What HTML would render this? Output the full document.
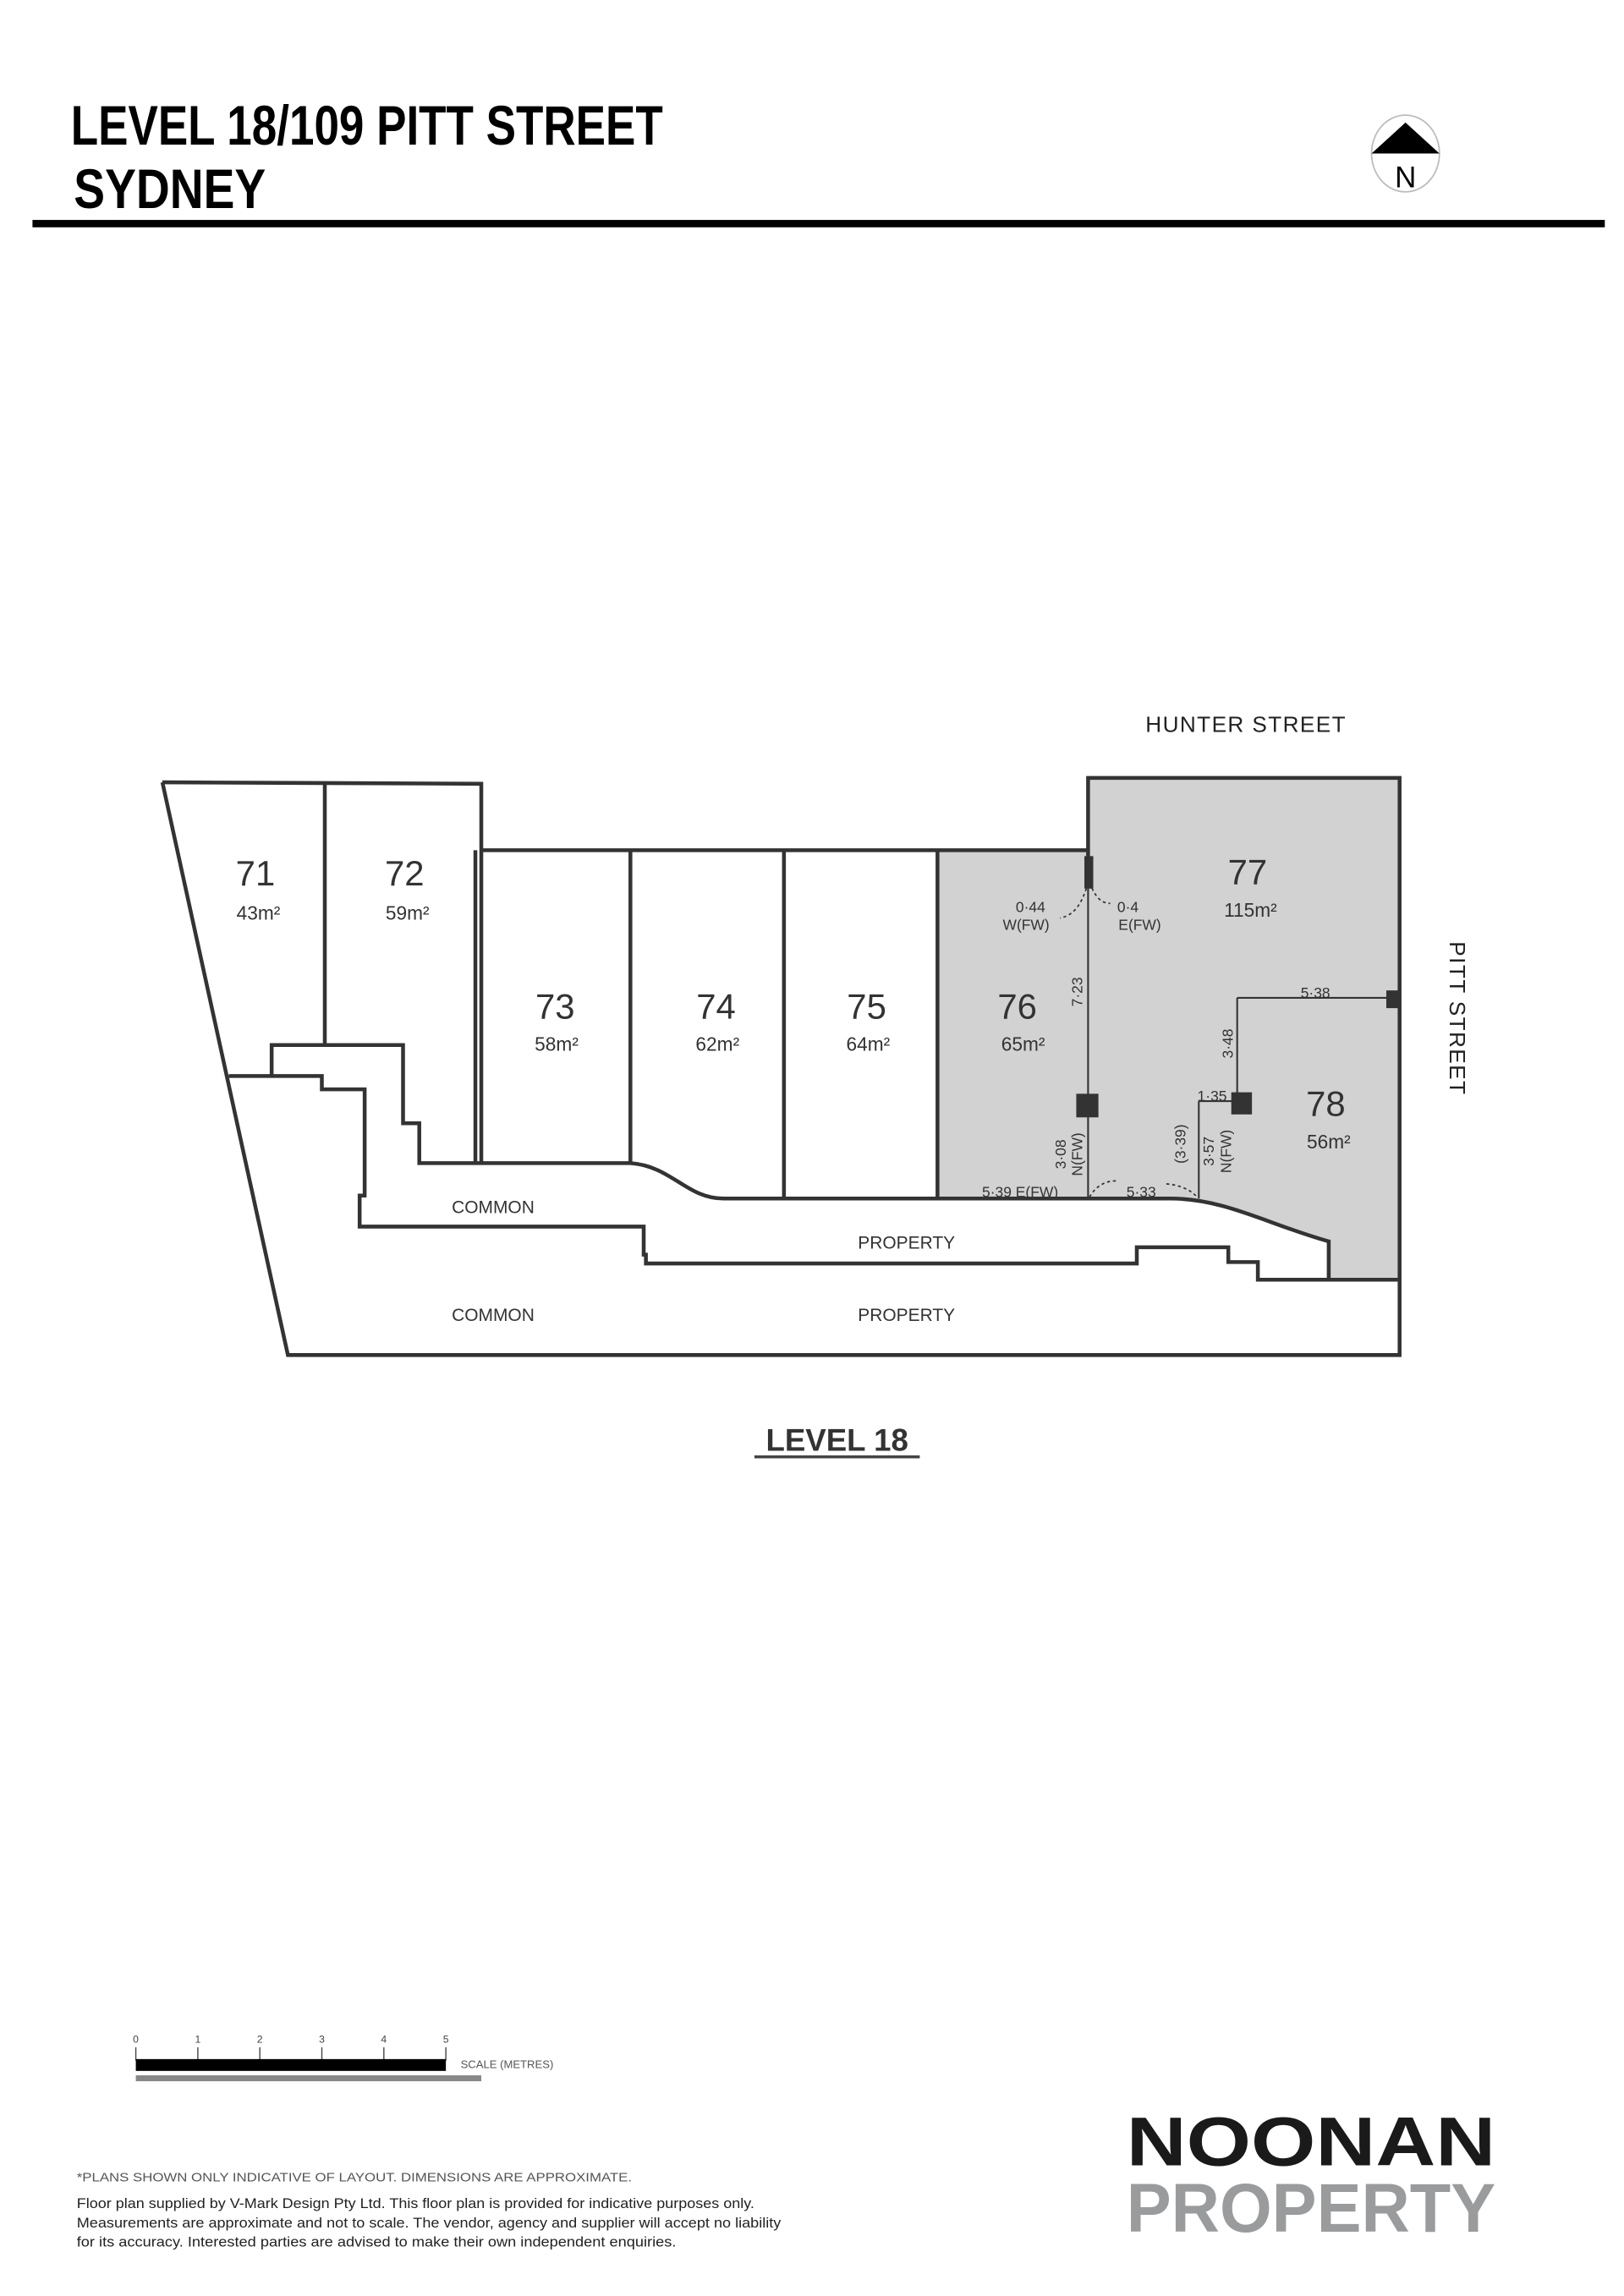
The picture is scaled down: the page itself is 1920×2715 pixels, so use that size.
<!DOCTYPE html>
<html><head><meta charset="utf-8"><style>
html,body{margin:0;padding:0;background:#fff;}
svg{display:block;}
text{font-family:"Liberation Sans",sans-serif;}
</style></head><body>
<svg width="1920" height="2715" viewBox="0 0 1100 1555.5" preserveAspectRatio="none" xmlns="http://www.w3.org/2000/svg">
<!-- header -->
<text x="48" y="98" font-family="Liberation Sans Narrow, Liberation Sans, sans-serif" font-weight="bold" font-size="38" textLength="401" lengthAdjust="spacingAndGlyphs">LEVEL 18/109 PITT STREET</text>
<text x="50" y="141" font-family="Liberation Sans Narrow, Liberation Sans, sans-serif" font-weight="bold" font-size="38" textLength="130" lengthAdjust="spacingAndGlyphs">SYDNEY</text>
<rect x="22" y="149" width="1065" height="5" fill="#000"/>
<ellipse cx="952" cy="104" rx="23" ry="26" fill="#fff" stroke="#bbb" stroke-width="1"/>
<polygon points="952,83 929,104 975,104" fill="#000"/>
<text x="952" y="127" text-anchor="middle" font-size="20" fill="#000">N</text>

<!-- plan -->
<g stroke="#333" stroke-width="2.6" fill="none" stroke-linejoin="miter">
<path d="M635,576 L737,576 L737,527 L948,527 L948,868 L900,868 L900,841 C860,830 830,812 793,812 L635,812 Z" fill="#d2d2d2" stroke="none"/>
<!-- outer -->
<path d="M110,530 L326,531 L326,788"/>
<path d="M110,530 L195,918 L948,918 L948,527 L737,527 L737,597"/>
<path d="M326,576 L737,576"/>
<path d="M220,531 L220,708"/>
<!-- unit dividers -->
<path d="M322,576 L322,788"/>
<path d="M427,576 L427,788"/>
<path d="M531,576 L531,812"/>
<path d="M635,576 L635,812"/>
<!-- upper corridor -->
<path d="M184,729 L184,708 L273,708 L273,761 L284,761 L284,788 L427,788 C455,790 465,812 490,812 L793,812 C830,812 860,830 900,841 L900,868"/>
<!-- lower corridor -->
<path d="M155,729 L218,729 L218,738 L247,738 L247,810 L243.6,810 L243.6,831 L436,831 L436,850 L437.5,850 L437.5,856 L770,856 L770,845 L832,845 L832,855 L852,855 L852,867 L948,867"/>
</g>
<!-- internal dimension lines -->
<g stroke="#333" stroke-width="1.2" fill="none">
<path d="M737,597 L737,812"/>
<path d="M838,676 L946,676"/>
<path d="M838,676 L838,745"/>
<path d="M812,746 L838,746"/>
<path d="M812,746 L812,812"/>
</g>
<g stroke="#333" stroke-width="1" fill="none" stroke-dasharray="2,2">
<path d="M737,598 C733,612 728,620 718,622"/>
<path d="M738,598 C742,608 746,612 752,612"/>
<path d="M738,811 C742,804 748,800 756,800"/>
<path d="M790,802 C800,803 806,806 811,811"/>
</g>
<g fill="#333">
<rect x="734.5" y="580" width="6" height="22"/>
<rect x="729" y="741" width="15" height="16"/>
<rect x="834" y="740" width="14" height="15"/>
<rect x="939" y="671" width="9" height="12"/>
</g>

<!-- unit labels -->
<g fill="#333" text-anchor="middle" font-family="DejaVu Sans Condensed, Liberation Sans, sans-serif">
<text x="173" y="600" font-size="24">71</text>
<text x="175" y="623" font-size="13">43m²</text>
<text x="274" y="600" font-size="24">72</text>
<text x="276" y="623" font-size="13">59m²</text>
<text x="376" y="690" font-size="24">73</text>
<text x="377" y="712" font-size="13">58m²</text>
<text x="485" y="690" font-size="24">74</text>
<text x="486" y="712" font-size="13">62m²</text>
<text x="587" y="690" font-size="24">75</text>
<text x="588" y="712" font-size="13">64m²</text>
<text x="689" y="690" font-size="24">76</text>
<text x="693" y="712" font-size="13">65m²</text>
<text x="845" y="599" font-size="24">77</text>
<text x="847" y="621" font-size="13">115m²</text>
<text x="898" y="756" font-size="24">78</text>
<text x="900" y="778" font-size="13">56m²</text>
<text x="334" y="822" font-size="12">COMMON</text>
<text x="614" y="846" font-size="12">PROPERTY</text>
<text x="334" y="895" font-size="12">COMMON</text>
<text x="614" y="895" font-size="12">PROPERTY</text>
<!-- dims -->
<text x="698" y="618" font-size="10">0·44</text>
<text x="695" y="630" font-size="10">W(FW)</text>
<text x="764" y="618" font-size="10">0·4</text>
<text x="772" y="630" font-size="10">E(FW)</text>
<text x="891" y="676" font-size="10">5·38</text>
<text x="821" y="746" font-size="10">1·35</text>
<text x="691" y="811" font-size="10">5·39 E(FW)</text>
<text x="773" y="811" font-size="10">5·33</text>
<text transform="translate(733,672) rotate(-90)" font-size="10">7·23</text>
<text transform="translate(835,707) rotate(-90)" font-size="10">3·48</text>
<text transform="translate(722,782) rotate(-90)" font-size="10">3·08</text>
<text transform="translate(733,782) rotate(-90)" font-size="10">N(FW)</text>
<text transform="translate(803,775) rotate(-90)" font-size="10">(3·39)</text>
<text transform="translate(822,780) rotate(-90)" font-size="10">3·57</text>
<text transform="translate(834,780) rotate(-90)" font-size="10">N(FW)</text>
</g>
<text x="844" y="496" text-anchor="middle" font-size="15" fill="#222" letter-spacing="0.8">HUNTER STREET</text>
<text transform="translate(982,690) rotate(90)" text-anchor="middle" font-size="15" fill="#222" letter-spacing="0.8">PITT STREET</text>
<text x="567" y="983" text-anchor="middle" font-size="21" font-weight="bold" fill="#333" font-family="Liberation Sans Narrow, Liberation Sans, sans-serif">LEVEL 18</text>
<rect x="511" y="986" width="112" height="2" fill="#444"/>

<!-- scale bar -->
<g font-size="7" fill="#444" text-anchor="middle">
<text x="92" y="1384">0</text><text x="134" y="1384">1</text><text x="176" y="1384">2</text>
<text x="218" y="1384">3</text><text x="260" y="1384">4</text><text x="302" y="1384">5</text>
</g>
<g stroke="#444" stroke-width="0.8">
<path d="M92,1387V1396M134,1387V1396M176,1387V1396M218,1387V1396M260,1387V1396M302,1387V1396"/>
</g>
<rect x="92" y="1395" width="210" height="8" fill="#000"/>
<rect x="92" y="1406" width="234" height="4" fill="#888"/>
<text x="312" y="1401" font-size="7.5" fill="#555">SCALE (METRES)</text>

<!-- disclaimer -->
<text x="52" y="1478" font-size="8.6" fill="#555" textLength="376" lengthAdjust="spacingAndGlyphs">*PLANS SHOWN ONLY INDICATIVE OF LAYOUT. DIMENSIONS ARE APPROXIMATE.</text>
<text x="52" y="1496" font-size="9.4" fill="#222" textLength="459" lengthAdjust="spacingAndGlyphs">Floor plan supplied by V-Mark Design Pty Ltd. This floor plan is provided for indicative purposes only.</text>
<text x="52" y="1509" font-size="9.4" fill="#222" textLength="477" lengthAdjust="spacingAndGlyphs">Measurements are approximate and not to scale. The vendor, agency and supplier will accept no liability</text>
<text x="52" y="1522" font-size="9.4" fill="#222" textLength="406" lengthAdjust="spacingAndGlyphs">for its accuracy. Interested parties are advised to make their own independent enquiries.</text>

<!-- logo -->
<text x="763" y="1467" font-size="47" font-weight="bold" fill="#1a1a1a" textLength="250" lengthAdjust="spacingAndGlyphs">NOONAN</text>
<text x="763" y="1512" font-size="47" font-weight="bold" fill="#9a9b9d" textLength="250" lengthAdjust="spacingAndGlyphs">PROPERTY</text>
</svg>
</body></html>
